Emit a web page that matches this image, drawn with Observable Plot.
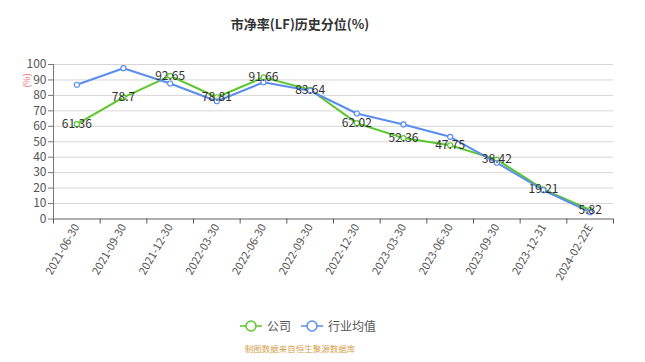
<!DOCTYPE html>
<html>
<head>
<meta charset="utf-8">
<script src="https://cdn.jsdelivr.net/npm/d3@7"></script>
<script src="https://cdn.jsdelivr.net/npm/@observablehq/plot@0.6"></script>
<style>
  body { margin: 0; background: #fff; font-family: "Noto Sans CJK SC", "Noto Sans", sans-serif; }
  #wrap { position: relative; width: 645px; height: 362px; overflow: hidden; }
  #title { position: absolute; left: 0; width: 600px; top: 14px; text-align: center; font-size: 13px; font-weight: bold; color: #333; }
  #chart { position: absolute; left: 0; top: 50px; }
  #ylab { position: absolute; left: 19px; top: 74px; font-size: 9px; color: #f07070; transform: rotate(-90deg); transform-origin: center; }
  #legend { position: absolute; left: 8px; width: 600px; top: 317px; display: flex; justify-content: center; align-items: center; font-size: 12px; color: #555; }
  #legend .item { display: flex; align-items: center; margin: 0 5px; }
  #legend svg { margin-right: 5px; }
  #caption { position: absolute; left: 0; width: 600px; top: 342px; text-align: center; font-size: 8.5px; color: #d4a04c; }
</style>
</head>
<body>
<div id="wrap">
  <div id="title">市净率(LF)历史分位(%)</div>
  <div id="chart"></div>
  <div id="ylab">(%)</div>
  <div id="legend"></div>
  <div id="caption">制图数据来自恒生聚源数据库</div>
</div>
<script>
const dates = ["2021-06-30","2021-09-30","2021-12-30","2022-03-30","2022-06-30","2022-09-30","2022-12-30","2023-03-30","2023-06-30","2023-09-30","2023-12-31","2024-02-22E"];
const company = [61.36, 78.7, 92.65, 78.81, 91.66, 83.64, 62.02, 52.36, 47.75, 38.42, 19.21, 5.82];
const industry = [86.9, 97.6, 87.7, 76.2, 88.5, 83.0, 68.3, 61.2, 53.2, 36.4, 18.6, 4.4];
const seriesNames = ["公司", "行业均值"];
const colors = ["#5cc72c", "#5b8def"];
const yTicks = d3.range(0, 101, 10);

const idx = dates.map((d, i) => i);
const bounds = d3.range(-0.5, dates.length, 1);
const rows = dates.map((d, i) => ({i, v: industry[i], s: seriesNames[1]}));
const compRows = dates.map((d, i) => ({i, v: company[i], s: seriesNames[0]}));

const plot = Plot.plot({
  width: 645,
  height: 250,
  marginTop: 14,
  marginBottom: 81.5,
  marginLeft: 53,
  marginRight: 32,
  x: {type: "linear", domain: [-0.5, dates.length - 0.5]},
  y: {domain: [0, 100]},
  style: {fontFamily: "'Noto Sans CJK SC', 'Noto Sans', sans-serif", fontSize: "11px", color: "#555", background: "transparent"},
  marks: [
    Plot.gridY(yTicks, {stroke: "#d6d6d6", strokeOpacity: 1}),
    Plot.axisY(yTicks, {tickSize: 5, tickPadding: 2, label: null, fontSize: 12, stroke: "#777"}),
    Plot.ruleX([-0.5], {stroke: "#777"}),
    Plot.ruleY([0], {stroke: "#777"}),
    Plot.axisX(bounds, {tickFormat: () => "", tickSize: 5, label: null, stroke: "#555"}),
    Plot.axisX(idx, {tickFormat: i => dates[i], tickSize: 0, tickPadding: 6, tickRotate: -60, label: null, fontSize: 11}),
    Plot.line(compRows, {x: "i", y: "v", stroke: colors[0], strokeWidth: 2}),
    Plot.line(rows, {x: "i", y: "v", stroke: colors[1], strokeWidth: 2}),
    Plot.dot(compRows, {x: "i", y: "v", r: 2.5, fill: "white", stroke: colors[0], strokeWidth: 1.2}),
    Plot.dot(rows, {x: "i", y: "v", r: 2.5, fill: "white", stroke: colors[1], strokeWidth: 1.2}),
    Plot.text(compRows, {x: "i", y: "v", text: d => String(d.v), fill: "#333", fontSize: 12})
  ]
});
document.getElementById("chart").appendChild(plot);

const legend = document.getElementById("legend");
seriesNames.forEach((name, k) => {
  const item = document.createElement("div");
  item.className = "item";
  item.innerHTML = `<svg width="22" height="12"><line x1="0" y1="6" x2="22" y2="6" stroke="${colors[k]}" stroke-width="1.5"/><circle cx="11" cy="6" r="5" fill="white" stroke="${colors[k]}" stroke-width="1.5"/></svg><span>${name}</span>`;
  legend.appendChild(item);
});
</script>
</body>
</html>
